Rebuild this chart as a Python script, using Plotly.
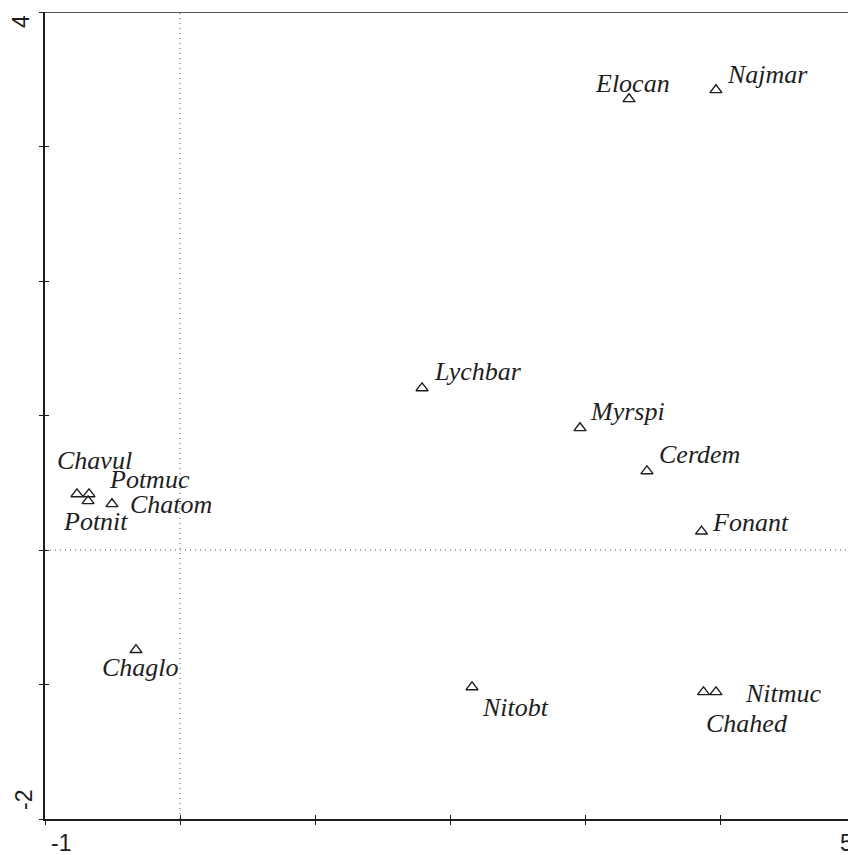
import plotly.graph_objects as go

# ---- data ----
species = ["Elocan", "Najmar", "Lychbar", "Myrspi", "Cerdem", "Fonant",
           "Chavul", "Potmuc", "Potnit", "Chatom", "Chaglo", "Nitobt",
           "Chahed", "Nitmuc"]
axis1 = [3.326, 3.970, 1.793, 2.963, 3.459, 3.863,
         -0.763, -0.674, -0.681, -0.504, -0.326, 2.163,
         3.878, 3.970]
axis2 = [3.353, 3.420, 1.204, 0.907, 0.587, 0.138,
         0.416, 0.416, 0.364, 0.342, -0.743, -1.019,
         -1.056, -1.056]
x_tick_labels = ["-1", "5"]
y_tick_labels = ["-2", "4"]

# ---- label placement (styling, pixels relative to the marker) ----
label_style = {
    "Elocan": ("center", 3, 16),
    "Najmar": ("left", 9, 16),
    "Lychbar": ("left", 10, 17),
    "Myrspi": ("left", 8, 17),
    "Cerdem": ("left", 10, 17),
    "Fonant": ("left", 8, 9),
    "Chavul": ("center", 17, 34),
    "Potmuc": ("left", 18, 15),
    "Potnit": ("center", 7, -20),
    "Chatom": ("left", 16, 0),
    "Chaglo": ("center", 5, -18),
    "Nitobt": ("left", 8, -20),
    "Chahed": ("left", 0, -31),
    "Nitmuc": ("left", 27, -1),
}

# The reference frame is cut by the right edge of the picture (x = 5 would
# sit just beyond it), so the visible x range stops slightly short of 5.
W, H = 848, 855
left_px, top_px, bottom_px = 45, 12, 819
L, T, B, R = left_px, top_px, H - bottom_px, 0
plot_w = W - left_px
plot_h = bottom_px - top_px
px_per_x = 135.0
x_range = [-1, -1 + plot_w / px_per_x]
y_range = [-2, 4]


def paper_x(page_x):
    return (page_x - left_px) / plot_w


def paper_y(page_y):
    return (bottom_px - page_y) / plot_h


ink = "#1e1e1e"
fig = go.Figure()

fig.add_trace(go.Scatter(
    x=axis1, y=axis2, mode="markers",
    marker=dict(symbol="triangle-up-open", size=10.5, color=ink,
                line=dict(width=1.4, color=ink)),
    hoverinfo="text", text=species, showlegend=False,
))
# invisible trace carrying the overlay axes (inner half of crossing ticks)
fig.add_trace(go.Scatter(x=[axis1[0]], y=[axis2[0]], xaxis="x2", yaxis="y2",
                         mode="markers", marker=dict(opacity=0),
                         hoverinfo="skip", showlegend=False))

annotations = []
for name, xv, yv in zip(species, axis1, axis2):
    anchor, dx, dy = label_style[name]
    annotations.append(dict(
        x=xv, y=yv, xref="x", yref="y", text=name, showarrow=False,
        xanchor=anchor, yanchor="middle", xshift=dx, yshift=dy,
        font=dict(family="Liberation Serif, Times New Roman, serif",
                  size=26, style="italic", color=ink),
    ))

tick_font = dict(family="Liberation Sans, Arial, sans-serif", size=23, color=ink)
annotations.append(dict(x=paper_x(61), y=paper_y(843), xref="paper", yref="paper",
                        text=x_tick_labels[0], showarrow=False,
                        xanchor="center", yanchor="middle", font=tick_font))
annotations.append(dict(x=paper_x(846), y=paper_y(843), xref="paper", yref="paper",
                        text=x_tick_labels[1], showarrow=False,
                        xanchor="center", yanchor="middle", font=tick_font))
annotations.append(dict(x=paper_x(24), y=paper_y(800), xref="paper", yref="paper",
                        text=y_tick_labels[0], showarrow=False,
                        xanchor="center", yanchor="middle", textangle=-90,
                        font=tick_font))
annotations.append(dict(x=paper_x(21), y=paper_y(22), xref="paper", yref="paper",
                        text=y_tick_labels[1], showarrow=False,
                        xanchor="center", yanchor="middle", textangle=-90,
                        font=tick_font))

shapes = [
    dict(type="line", xref="x", yref="paper", x0=0, x1=0, y0=0, y1=1,
         line=dict(color="#555555", width=1, dash="1px,4px"), layer="below"),
    dict(type="line", xref="paper", yref="y", x0=0, x1=1, y0=0, y1=0,
         line=dict(color="#555555", width=1, dash="1px,4px"), layer="below"),
    # top frame line (no right frame line is visible in the reference)
    dict(type="line", xref="paper", yref="y", x0=-0.005, x1=1, y0=4, y1=4,
         line=dict(color=ink, width=1.5)),
]

axis_common = dict(showgrid=False, zeroline=False, showline=True,
                   linecolor=ink, linewidth=1.5, tickcolor=ink, tickwidth=1.3,
                   showticklabels=False, dtick=1)

fig.update_layout(
    width=W, height=H,
    margin=dict(l=L, r=R, t=T, b=B, pad=0),
    paper_bgcolor="white", plot_bgcolor="white",
    xaxis=dict(range=x_range, tick0=-1, ticks="outside", ticklen=4,
               **axis_common),
    yaxis=dict(range=y_range, tick0=-2, ticks="outside", ticklen=4,
               **axis_common),
    xaxis2=dict(range=x_range, tick0=-1, ticks="inside", ticklen=4,
                overlaying="x", side="bottom", anchor="y2", **axis_common),
    yaxis2=dict(range=y_range, tick0=-2, ticks="inside", ticklen=4,
                overlaying="y", side="left", anchor="x2", **axis_common),
    annotations=annotations,
    shapes=shapes,
)

fig.write_html(
    "out.html",
    config={"displayModeBar": False},
    post_script="document.body.style.margin='0';"
                "document.body.style.overflow='hidden';",
)
